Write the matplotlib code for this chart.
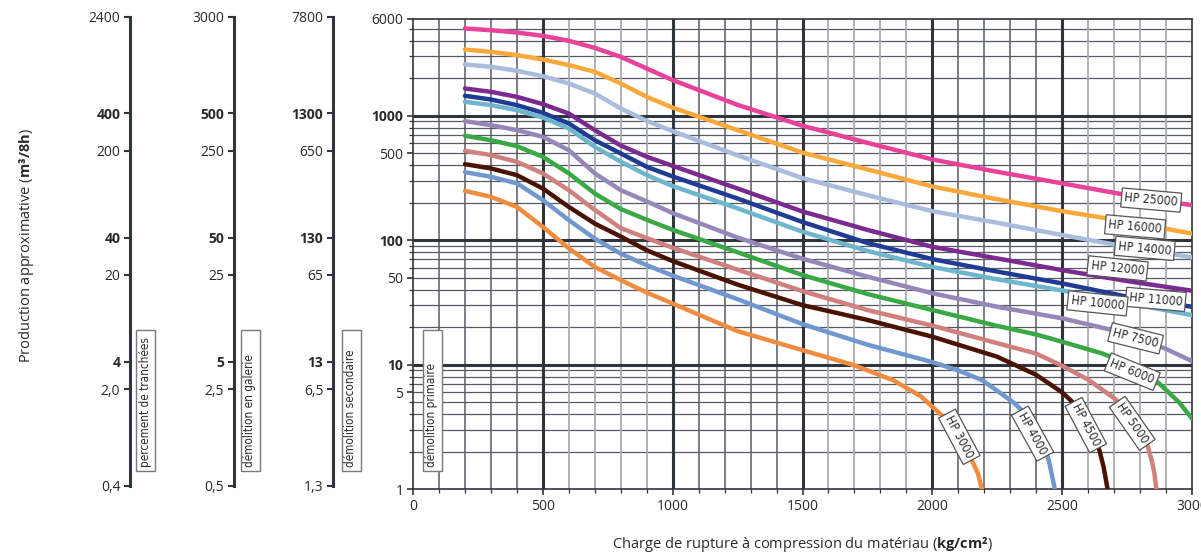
import numpy as np
import matplotlib.pyplot as plt
from matplotlib.patches import Rectangle
from matplotlib.ticker import LogLocator, NullFormatter, NullLocator, MultipleLocator

plt.rcParams['font.family'] = ['Open Sans', 'DejaVu Sans']
plt.rcParams['mathtext.fontset'] = 'custom'
plt.rcParams['mathtext.rm'] = 'Open Sans'
plt.rcParams['mathtext.bf'] = 'Open Sans:bold'

#################################################################
#  DATA
#################################################################
x_upper = [200, 300, 400, 500, 600, 700, 800, 900, 1000, 1250, 1500,
           1750, 2000, 2250, 2500, 2750, 3000]
hp25000 = [5010, 4850, 4650, 4370, 3990, 3500, 2965, 2390, 1930, 1220, 830,
           605, 445, 354, 286, 230, 191]
hp16000 = [3395, 3250, 3060, 2825, 2545, 2250, 1812, 1416, 1160, 765, 505,
           370, 270, 213, 171, 141, 113]
hp14000 = [2575, 2467, 2291, 2075, 1812, 1506, 1141, 908, 750, 480, 315,
           230, 171, 138, 110, 88.5, 72.8]
hp12000 = [1651, 1553, 1416, 1237, 1040, 765, 575, 468, 395, 260, 170,
           121, 88.5, 71.4, 57.5, 47, 39.3]
hp11000 = [1443, 1348, 1214, 1054, 865, 635, 497, 388, 325, 216, 140,
           95, 70.5, 56, 45, 35.2, 29.2]
hp10000 = [1291, 1214, 1107, 966, 789, 562, 427, 333, 272, 180, 117,
           82, 61, 48.5, 39.5, 31.3, 25]

x_hp7500 = [200, 300, 400, 500, 600, 700, 800, 900, 1000, 1250, 1500,
            1750, 2000, 2250, 2500, 2750, 2900, 3000]
hp7500 = [903, 839, 765, 676, 528, 344, 252, 205, 165, 105, 71,
          51, 37.5, 29.2, 23.6, 17.8, 13.4, 10.7]

x_hp6000 = [200, 300, 400, 500, 600, 700, 800, 900, 1000, 1250, 1500, 1750,
            2000, 2250, 2400, 2500, 2650, 2750, 2873, 2950, 3000]
hp6000 = [689, 635, 569, 467, 344, 237, 178, 146, 121, 80, 52.5, 37,
          27.5, 20.5, 17.5, 15.3, 12.4, 10.4, 7.1, 5.0, 3.7]

x_hp5000 = [200, 300, 400, 500, 600, 700, 800, 900, 1000, 1250, 1500, 1750,
            2000, 2250, 2400, 2500, 2600, 2700, 2760, 2800, 2830, 2845, 2855, 2863]
hp5000 = [522, 482, 426, 344, 252, 175, 125, 104, 87, 58, 39, 27.5,
          20.6, 14.9, 12.3, 9.8, 7.6, 5.4, 4.1, 3.1, 2.2, 1.7, 1.35, 1.0]

x_hp4500 = [200, 300, 400, 500, 600, 700, 800, 900, 1000, 1250, 1500, 1750,
            2000, 2250, 2400, 2500, 2580, 2620, 2645, 2660, 2675]
hp4500 = [408, 377, 333, 260, 185, 136, 107, 83, 68, 44, 30.1, 22.9,
          16.8, 11.6, 8.3, 6.0, 4.2, 3.0, 2.0, 1.5, 1.0]

x_hp4000 = [200, 300, 400, 500, 600, 700, 800, 900, 1000, 1250, 1500, 1750,
            2000, 2100, 2193, 2309, 2386, 2430, 2450, 2472]
hp4000 = [352, 323, 286, 210, 145, 103, 78, 63, 52, 33.6, 21.2, 14.5,
          10.5, 9.0, 7.5, 5.05, 3.6, 2.4, 1.65, 1.0]

x_hp3000 = [200, 300, 400, 500, 600, 700, 800, 900, 1000, 1250, 1500, 1700,
            1850, 1955, 2000, 2050, 2100, 2150, 2175, 2191]
hp3000 = [249, 223, 185, 128, 86, 61, 47.8, 38, 31, 18.6, 13.1, 9.9,
          7.5, 5.6, 4.6, 3.7, 2.7, 1.75, 1.35, 1.0]

# curve labels: text, x, y, rotation
lbl_text = ['HP 25000', 'HP 16000', 'HP 14000', 'HP 12000', 'HP 11000',
            'HP 10000', 'HP 7500', 'HP 6000', 'HP 5000', 'HP 4500',
            'HP 4000', 'HP 3000']
lbl_x = [2843, 2781, 2818, 2713, 2860, 2636, 2783, 2770, 2770, 2591, 2386, 2104]
lbl_y = [210, 128, 86, 59.4, 33.5, 31.1, 16.3, 8.8, 3.39, 3.28, 2.8, 2.64]
lbl_rot = [-5, -5, -5, -6, -5, -6, -14, -22, -55, -62, -61, -62]

# left scales (main value positions, the chart prints "5" on the 6 line)
tick_pos = [6000, 1000, 500, 100, 50, 10, 6, 1]
main_lbl = ['6000', '1000', '500', '100', '50', '10', '5', '1']
tranch_lbl = ['2400', '400', '200', '40', '20', '4', '2,0', '0,4']
galerie_lbl = ['3000', '500', '250', '50', '25', '5', '2,5', '0,5']
second_lbl = ['7800', '1300', '650', '130', '65', '13', '6,5', '1,3']
bold_idx = [1, 3, 5]

#################################################################
#  PLOT
#################################################################
DARK = '#30343c'
MID = '#565a62'
LIGHT = '#a9abae'
TXT = '#2a2a2a'
NARROW = dict(family='DejaVu Sans', stretch='condensed')

fig = plt.figure(figsize=(12.01, 5.57), dpi=100)
ax = fig.add_axes([0.3439, 0.1215, 0.6486, 0.8449])
ax.set_yscale('log')
ax.set_xlim(0, 3000)
ax.set_ylim(1, 6000)

# grid
for dec in [1, 10, 100, 1000]:
    for m in range(2, 10):
        v = m * dec
        if v < 6000:
            ax.axhline(v, color=MID, lw=0.9, zorder=1)
for v in [10, 100, 1000]:
    ax.axhline(v, color=DARK, lw=2.2, zorder=2)
for xv in range(100, 3000, 100):
    if xv % 500 == 0:
        ax.axvline(xv, color=DARK, lw=2.2, zorder=2)
    elif (xv // 500) % 2 == 0:
        ax.axvline(xv, color=MID, lw=1.1, zorder=1)
    else:
        ax.axvline(xv, color=LIGHT, lw=1.3, zorder=1)

curves = [
    (x_upper, hp25000, '#e8429a'),
    (x_upper, hp16000, '#f9a93b'),
    (x_upper, hp14000, '#a9bcdc'),
    (x_upper, hp12000, '#7b2b8f'),
    (x_upper, hp11000, '#1f3b94'),
    (x_upper, hp10000, '#6db6cd'),
    (x_hp7500, hp7500, '#9787b9'),
    (x_hp6000, hp6000, '#3aa845'),
    (x_hp5000, hp5000, '#d0807e'),
    (x_hp4500, hp4500, '#4a1200'),
    (x_hp4000, hp4000, '#7098cf'),
    (x_hp3000, hp3000, '#f08c40'),
]
for xs, ys, c in curves:
    ax.plot(xs, ys, color=c, lw=3.2, solid_capstyle='round',
            solid_joinstyle='round', zorder=5)

for t, x, y, r in zip(lbl_text, lbl_x, lbl_y, lbl_rot):
    ax.text(x, y, t, rotation=r, rotation_mode='anchor', ha='center',
            va='center', fontsize=8.8, color=TXT, zorder=10,
            bbox=dict(boxstyle='square,pad=0.25', fc='white', ec='#555555', lw=0.9),
            **NARROW)

for s in ax.spines.values():
    s.set_color(DARK)
    s.set_linewidth(1.2)

ax.set_yticks(tick_pos)
ax.set_yticklabels(main_lbl)
ax.yaxis.set_minor_locator(LogLocator(base=10, subs=range(2, 10)))
ax.yaxis.set_minor_formatter(NullFormatter())
ax.set_xticks(range(0, 3001, 500))
ax.xaxis.set_minor_locator(MultipleLocator(100))
ax.tick_params(axis='both', which='major', length=4, width=1.2, color=DARK,
               labelsize=10, labelcolor=TXT, pad=3)
ax.tick_params(axis='both', which='minor', length=3, width=0.9, color=DARK)
for i, tl in enumerate(ax.get_yticklabels()):
    if i in bold_idx:
        tl.set_fontweight('bold')

fig.text(803 / 1201, 1 - 545 / 557,
         r'Charge de rupture à compression du matériau ($\mathbf{kg/cm²}$)',
         ha='center', va='center', fontsize=10.5, color=TXT)

# left side scales
def side_scale(xfig, labels):
    a = fig.add_axes([xfig, 0.1275, 0.0008, 0.8425])
    a.set_yscale('log')
    a.set_ylim(1, 6000)
    a.patch.set_visible(False)
    for s in ['top', 'right', 'bottom']:
        a.spines[s].set_visible(False)
    a.spines['left'].set_color(DARK)
    a.spines['left'].set_linewidth(2.2)
    a.set_xticks([])
    a.set_yticks(tick_pos)
    a.set_yticklabels(labels)
    a.yaxis.set_minor_locator(NullLocator())
    a.tick_params(axis='y', length=4, width=1.5, color=DARK, labelsize=10,
                  labelcolor=TXT, pad=3)
    for i, tl in enumerate(a.get_yticklabels()):
        if i in bold_idx:
            tl.set_fontweight('bold')
    return a

side_scale(130 / 1201, tranch_lbl)
side_scale(234 / 1201, galerie_lbl)
side_scale(333 / 1201, second_lbl)

# boxed application labels
box_names = ['percement de tranchées', 'démolition en galerie',
             'démolition secondaire', 'démolition primaire']
box_cx = [145, 250, 351, 432]
for name, cx in zip(box_names, box_cx):
    fig.patches.append(Rectangle(((cx - 9.5) / 1201, 1 - 471 / 557), 19 / 1201,
                                 141 / 557, transform=fig.transFigure,
                                 fc='white', ec='#7a7a7a', lw=1.0, zorder=20))
    fig.text(cx / 1201, 1 - 467 / 557, name, rotation=90, ha='center',
             va='bottom', fontsize=8.4, color=TXT, zorder=21, **NARROW)

fig.text(27 / 1201, 1 - 246 / 557,
         r'Production approximative ($\mathbf{m³/8h}$)', rotation=90,
         ha='center', va='center', fontsize=10.5, color=TXT)

fig.savefig('out.png', dpi=100)
